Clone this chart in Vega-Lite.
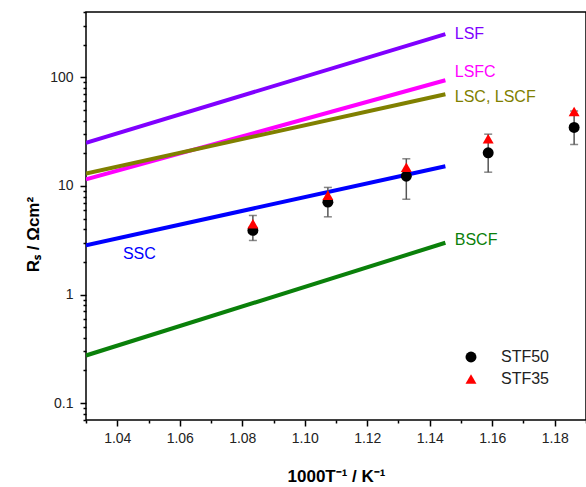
{
  "$schema": "https://vega.github.io/schema/vega-lite/v6.json",
  "autosize": "none",
  "padding": {"left": 86, "top": 12, "right": 0, "bottom": 67},
  "width": 500,
  "height": 408,
  "config": {
    "view": {"stroke": "black", "strokeWidth": 1.5},
    "font": "Liberation Sans",
    "axis": {"grid": false, "domain": false, "tickColor": "black", "tickWidth": 1.5, "labelFont": "Liberation Sans", "labelFontSize": 14, "labelColor": "#222", "titleFont": "Liberation Sans", "titleFontSize": 17, "titleFontWeight": "bold", "titleColor": "black"}
  },
  "datasets": {
    "lines": [
      {"x": 1.03, "y": 25, "series": "LSF"}, {"x": 1.145, "y": 250, "series": "LSF"},
      {"x": 1.03, "y": 11.5, "series": "LSFC"}, {"x": 1.145, "y": 94, "series": "LSFC"},
      {"x": 1.03, "y": 13, "series": "LSC, LSCF"}, {"x": 1.145, "y": 70, "series": "LSC, LSCF"},
      {"x": 1.03, "y": 2.85, "series": "SSC"}, {"x": 1.145, "y": 15.2, "series": "SSC"},
      {"x": 1.03, "y": 0.275, "series": "BSCF"}, {"x": 1.145, "y": 3.0, "series": "BSCF"}
    ],
    "labels": [
      {"x": 1.148, "y": 253, "series": "LSF"},
      {"x": 1.148, "y": 111, "series": "LSFC"},
      {"x": 1.148, "y": 65.8, "series": "LSC, LSCF"},
      {"x": 1.148, "y": 3.15, "series": "BSCF"},
      {"x": 1.0418, "y": 2.37, "series": "SSC"}
    ],
    "points": [
      {"x": 1.0834, "y": 3.9, "series": "STF50", "lo": 3.15, "hi": 5.35},
      {"x": 1.0834, "y": 4.5, "series": "STF35"},
      {"x": 1.1074, "y": 7.1, "series": "STF50", "lo": 5.2, "hi": 9.7},
      {"x": 1.1074, "y": 8.2, "series": "STF35"},
      {"x": 1.1325, "y": 12.3, "series": "STF50", "lo": 7.55, "hi": 17.8},
      {"x": 1.1325, "y": 14.9, "series": "STF35"},
      {"x": 1.1587, "y": 20.2, "series": "STF50", "lo": 13.4, "hi": 30},
      {"x": 1.1587, "y": 27.2, "series": "STF35"},
      {"x": 1.1862, "y": 34.6, "series": "STF50", "lo": 24.1, "hi": 49},
      {"x": 1.1862, "y": 48.6, "series": "STF35"}
    ]
  },
  "layer": [
    {
      "data": {"name": "lines"},
      "mark": {"type": "line", "strokeWidth": 4, "clip": true},
      "encoding": {
        "x": {"field": "x", "type": "quantitative", "scale": {"domain": [1.03, 1.19], "nice": false, "zero": false},
          "axis": {
            "orient": "bottom",
            "title": "1000T⁻¹ / K⁻¹",
            "values": [1.04, 1.06, 1.08, 1.1, 1.12, 1.14, 1.16, 1.18],
            "format": ".2f",
            "tickSize": 6,
            "labelPadding": 5,
            "titleBaseline": "alphabetic",
            "titleY": 61
          }},
        "y": {"field": "y", "type": "quantitative", "scale": {"type": "log", "domain": [0.07, 400], "nice": false},
          "axis": {
            "orient": "left",
            "title": "Rₛ / Ωcm²",
            "values": [0.1, 1, 10, 100],
            "format": "~g",
            "tickSize": 6,
            "labelPadding": 7,
            "titleX": -48,
            "titleY": 222,
            "titleBaseline": "alphabetic",
            "titleAlign": "center"
          }},
        "color": {"field": "series", "type": "nominal", "legend": null,
          "scale": {"domain": ["LSF", "LSFC", "LSC, LSCF", "SSC", "BSCF"], "range": ["#8000ff", "#ff00ff", "#808000", "#0000ff", "#0a800a"]}},
        "detail": {"field": "series"}
      }
    },
    {
      "data": {"name": "labels"},
      "mark": {"type": "text", "align": "left", "baseline": "middle", "fontSize": 16, "font": "Liberation Sans"},
      "encoding": {
        "x": {"field": "x", "type": "quantitative", "scale": {"domain": [1.03, 1.19], "nice": false, "zero": false},
          "axis": {"orient": "bottom", "title": null, "labels": false, "tickSize": 3,
            "values": [1.03, 1.05, 1.07, 1.09, 1.11, 1.13, 1.15, 1.17, 1.19]}},
        "y": {"field": "y", "type": "quantitative", "scale": {"type": "log", "domain": [0.07, 400], "nice": false},
          "axis": {"orient": "left", "title": null, "labels": false, "tickSize": 3,
            "values": [0.07, 0.08, 0.09, 0.2, 0.3, 0.4, 0.5, 0.6, 0.7, 0.8, 0.9, 2, 3, 4, 5, 6, 7, 8, 9, 20, 30, 40, 50, 60, 70, 80, 90, 200, 300, 400]}},
        "text": {"field": "series"},
        "color": {"field": "series", "type": "nominal", "legend": null,
          "scale": {"domain": ["LSF", "LSFC", "LSC, LSCF", "SSC", "BSCF"], "range": ["#8000ff", "#ff00ff", "#808000", "#0000ff", "#0a800a"]}}
      }
    },
    {
      "data": {"name": "points"},
      "transform": [{"filter": "datum.lo != null"}],
      "mark": {"type": "rule", "color": "#555", "strokeWidth": 1.5},
      "encoding": {
        "x": {"field": "x", "type": "quantitative", "axis": null},
        "y": {"field": "lo", "type": "quantitative", "axis": null},
        "y2": {"field": "hi"}
      }
    },
    {
      "data": {"name": "points"},
      "transform": [{"filter": "datum.lo != null"}],
      "mark": {"type": "tick", "orient": "horizontal", "color": "#555", "size": 8, "thickness": 1.5},
      "encoding": {
        "x": {"field": "x", "type": "quantitative", "axis": null},
        "y": {"field": "lo", "type": "quantitative", "axis": null}
      }
    },
    {
      "data": {"name": "points"},
      "transform": [{"filter": "datum.lo != null"}],
      "mark": {"type": "tick", "orient": "horizontal", "color": "#555", "size": 8, "thickness": 1.5},
      "encoding": {
        "x": {"field": "x", "type": "quantitative", "axis": null},
        "y": {"field": "hi", "type": "quantitative", "axis": null}
      }
    },
    {
      "data": {"name": "points"},
      "mark": {"type": "point", "filled": true, "opacity": 1, "size": 120},
      "encoding": {
        "x": {"field": "x", "type": "quantitative", "axis": null},
        "y": {"field": "y", "type": "quantitative", "axis": null},
        "color": {"field": "series", "type": "nominal",
          "scale": {"domain": ["STF50", "STF35"], "range": ["black", "red"]},
          "legend": {"title": null, "orient": "none", "legendX": 377, "legendY": 337, "symbolSize": 120, "labelFontSize": 16, "labelFont": "Liberation Sans", "labelColor": "#222", "labelOffset": 22, "rowPadding": 5, "padding": 0, "symbolOpacity": 1}},
        "shape": {"field": "series", "type": "nominal",
          "scale": {"domain": ["STF50", "STF35"], "range": ["circle", "triangle-up"]}}
      }
    }
  ],
  "resolve": {"scale": {"color": "independent", "shape": "independent"}, "axis": {"x": "independent", "y": "independent"}}
}
